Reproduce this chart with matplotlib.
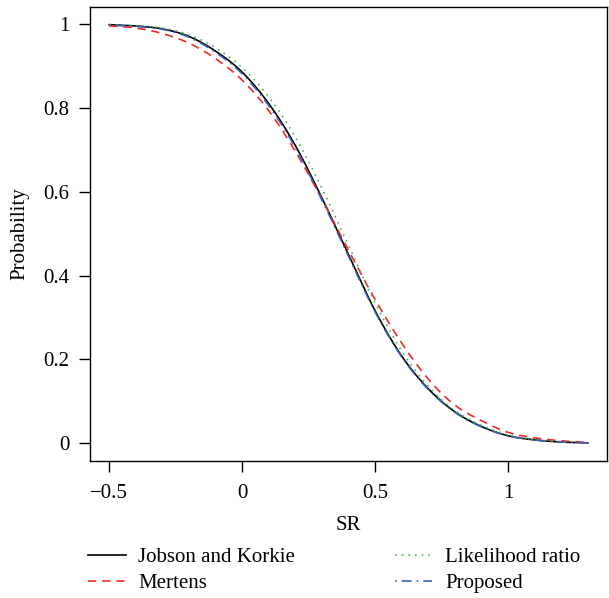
import matplotlib
matplotlib.use("Agg")
import matplotlib.pyplot as plt
import numpy as np

plt.rcParams['font.family'] = ['Liberation Serif', 'DejaVu Serif']

# valores
sr = [-0.5, -0.4, -0.3, -0.2, -0.1, 0.0, 0.1, 0.2, 0.3, 0.4,
      0.5, 0.6, 0.7, 0.8, 0.9, 1.0, 1.1, 1.2, 1.3]
jobson = [0.998, 0.995, 0.988, 0.970, 0.935, 0.885, 0.810, 0.710, 0.585, 0.450,
          0.316, 0.208, 0.130, 0.075, 0.040, 0.018, 0.008, 0.003, 0.001]
mertens = [0.995, 0.990, 0.977, 0.954, 0.917, 0.866, 0.793, 0.696, 0.582, 0.460,
           0.343, 0.239, 0.153, 0.091, 0.054, 0.026, 0.013, 0.006, 0.002]
likelihood = [0.998, 0.996, 0.990, 0.974, 0.943, 0.896, 0.826, 0.730, 0.608, 0.472,
              0.335, 0.220, 0.136, 0.078, 0.043, 0.020, 0.009, 0.004, 0.001]
propuesto = [0.997, 0.994, 0.987, 0.968, 0.932, 0.881, 0.805, 0.705, 0.580, 0.446,
             0.313, 0.206, 0.128, 0.074, 0.039, 0.018, 0.008, 0.003, 0.001]

nombres = ["Jobson and Korkie", "Mertens", "Likelihood ratio", "Proposed"]

# curva suave a traves de los puntos leidos (Catmull-Rom)
def suave(x, y, n=300):
    x = np.array(x); y = np.array(y)
    xs = np.linspace(x[0], x[-1], n)
    ys = np.zeros_like(xs)
    for k, xv in enumerate(xs):
        i = min(np.searchsorted(x, xv, side='right') - 1, len(x) - 2)
        t = (xv - x[i]) / (x[i+1] - x[i])
        p0 = y[i-1] if i > 0 else 2*y[i] - y[i+1]
        p3 = y[i+2] if i + 2 < len(y) else 2*y[i+1] - y[i]
        p1, p2 = y[i], y[i+1]
        ys[k] = 0.5*((2*p1) + (-p0+p2)*t + (2*p0-5*p1+4*p2-p3)*t**2 + (-p0+3*p1-3*p2+p3)*t**3)
    return xs, ys

fig = plt.figure(figsize=(6.09, 5.98), dpi=100)
ax = fig.add_axes([0.1478, 0.2296, 0.8489, 0.7579])

x, y = suave(sr, jobson)
ax.plot(x, y, color="black", lw=1.2, ls="-", label=nombres[0])
x, y = suave(sr, mertens)
ax.plot(x, y, color="#EE2B2B", lw=1.2, ls=(0, (5, 3.5)), label=nombres[1])
x, y = suave(sr, likelihood)
ax.plot(x, y, color="#4DB84D", lw=1.2, ls=(0, (1, 3)), label=nombres[2])
x, y = suave(sr, propuesto)
ax.plot(x, y, color="#3D62B3", lw=1.2, ls=(0, (1, 3, 6, 3)), label=nombres[3])

ax.set_xlim(-0.572, 1.372)
ax.set_ylim(-0.0415, 1.039)
ax.set_xticks([-0.5, 0, 0.5, 1])
ax.set_xticklabels(["\u22120.5", "0", "0.5", "1"])
ax.set_yticks([0, 0.2, 0.4, 0.6, 0.8, 1])
ax.set_yticklabels(["0", "0.2", "0.4", "0.6", "0.8", "1"])
ax.tick_params(direction="out", length=8, width=1, labelsize=15)
ax.tick_params(axis="x", pad=9)
ax.tick_params(axis="y", pad=7)
for s in ax.spines.values():
    s.set_linewidth(1)
ax.set_xlabel("SR", fontsize=15, labelpad=9)
ax.set_ylabel("Probability", fontsize=15, labelpad=10)

handles, labels = ax.get_legend_handles_labels()
fig.legend(handles, labels,
           loc="lower left", bbox_to_anchor=(0.1445, 0.008), ncol=2, frameon=False,
           fontsize=15, handlelength=1.8, columnspacing=4.8, handletextpad=0.6,
           labelspacing=0.3, borderpad=0, borderaxespad=0)

fig.savefig("out.png", dpi=100)
